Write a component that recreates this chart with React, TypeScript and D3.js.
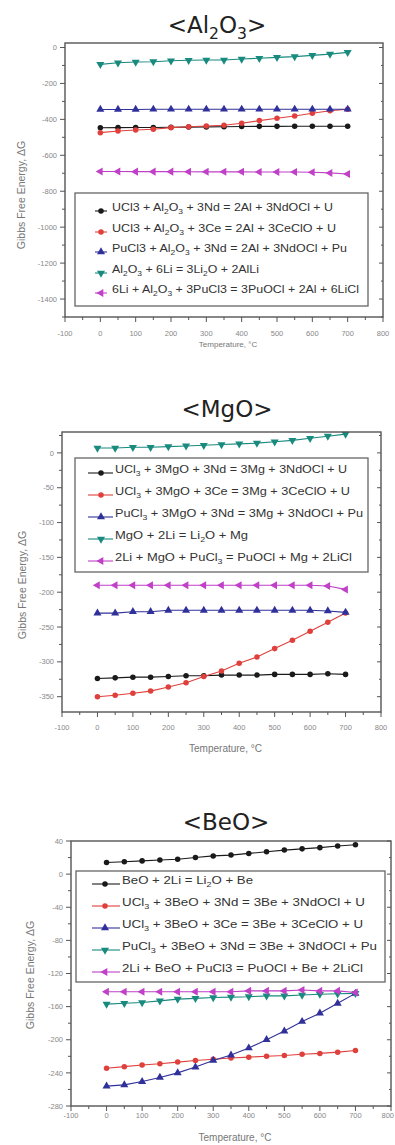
import * as d3 from "d3";

// temperatures (°C) shared by every panel
const temps = [0, 50, 100, 150, 200, 250, 300, 350, 400, 450, 500, 550, 600, 650, 700];
const xTicks = [-100, 0, 100, 200, 300, 400, 500, 600, 700, 800];

// <Al2O3>
const al2o3Black = [-447, -446, -445, -445, -444, -443, -442, -441, -440, -439, -439, -438, -438, -438, -438];
const al2o3Red = [-474, -465, -459, -455, -446, -441, -437, -433, -422, -407, -394, -381, -366, -352, -344];
const al2o3Blue = [-345, -345, -345, -344, -344, -344, -344, -344, -344, -344, -344, -344, -344, -344, -344];
const al2o3Teal = [-94, -85, -81, -79, -74, -71, -70, -70, -64, -60, -55, -51, -44, -37, -27];
const al2o3Magenta = [-690, -690, -691, -691, -691, -692, -692, -692, -692, -693, -693, -693, -694, -698, -704];
const al2o3YTicks = [0, -200, -400, -600, -800, -1000, -1200, -1400];
const al2o3Legend = [
  "UCl3 + Al_2O_3 + 3Nd = 2Al + 3NdOCl + U",
  "UCl3 + Al_2O_3 + 3Ce = 2Al + 3CeClO + U",
  "PuCl3 + Al_2O_3 + 3Nd = 2Al + 3NdOCl + Pu",
  "Al_2O_3 + 6Li = 3Li_2O + 2AlLi",
  "6Li + Al_2O_3 + 3PuCl3 = 3PuOCl + 2Al + 6LiCl",
];

// <MgO>
const mgoBlack = [-324, -323, -322, -322, -321, -320, -320, -319, -319, -319, -318, -318, -318, -317, -318];
const mgoRed = [-350, -348, -345, -342, -336, -330, -321, -313, -302, -293, -281, -269, -256, -243, -230];
const mgoBlue = [-230, -230, -228, -228, -226, -226, -226, -226, -226, -226, -226, -226, -226, -227, -229];
const mgoTeal = [7, 7, 8, 8, 9, 10, 11, 12, 13, 14, 16, 18, 21, 24, 27];
const mgoMagenta = [-190, -190, -190, -190, -190, -190, -190, -190, -190, -190, -190, -190, -190, -191, -196];
const mgoYTicks = [0, -50, -100, -150, -200, -250, -300, -350];
const mgoLegend = [
  "UCl_3 + 3MgO + 3Nd = 3Mg + 3NdOCl + U",
  "UCl_3 + 3MgO + 3Ce = 3Mg + 3CeClO + U",
  "PuCl_3 + 3MgO + 3Nd = 3Mg + 3NdOCl + Pu",
  "MgO + 2Li = Li_2O + Mg",
  "2Li + MgO + PuCl_3 = PuOCl + Mg + 2LiCl",
];

// <BeO>
const beoBlack = [14, 15, 16, 17, 18, 20, 22, 23, 25, 27, 29, 30.5, 32, 34, 35.5];
const beoRed = [-234.5, -232.5, -230.5, -229, -227, -225, -223.5, -222, -221, -220, -219, -217.5, -216.5, -215, -213];
const beoBlue = [-256, -254.5, -250.5, -245.5, -240, -233, -225, -218.5, -210, -200, -189.5, -178, -168, -156, -144];
const beoTeal = [-157, -156, -155, -153, -151, -150, -149, -148.5, -148, -147, -147, -146, -145, -144.5, -144];
const beoMagenta = [-142, -142, -142, -142, -142, -142, -142, -142, -141, -141, -141, -140, -141, -141, -143];
const beoYTicks = [40, 0, -40, -80, -120, -160, -200, -240, -280];
const beoLegend = [
  "BeO + 2Li = Li_2O + Be",
  "UCl_3 + 3BeO + 3Nd = 3Be + 3NdOCl + U",
  "UCl_3 + 3BeO + 3Ce = 3Be + 3CeClO + U",
  "PuCl_3 + 3BeO + 3Nd = 3Be + 3NdOCl + Pu",
  "2Li + BeO + PuCl3 = PuOCl + Be + 2LiCl",
];

const C = {
  black: "#1a1a1a",
  red: "#e0403c",
  blue: "#30309a",
  teal: "#198a7e",
  magenta: "#c040c8",
};

const sym = {
  circle: d3.symbol().type(d3.symbolCircle).size(24)() || "",
  tri: d3.symbol().type(d3.symbolTriangle).size(28)() || "",
};
const rot: Record<string, number> = { circle: 0, up: 0, down: 180, left: -90 };

function Marker({ x, y, shape, color }: any) {
  const d = shape === "circle" ? sym.circle : sym.tri;
  return <path d={d} fill={color} transform={`translate(${x},${y}) rotate(${rot[shape]})`} />;
}

// "Al_2O_3" -> tspans with subscripts
function Chem({ text, size }: { text: string; size: number }) {
  const parts = text.split(/(_\d)/).filter((p) => p !== "");
  let down = false;
  return (
    <>
      {parts.map((p, i) => {
        if (p.startsWith("_")) {
          down = true;
          return (
            <tspan key={i} fontSize={size * 0.68} dy={size * 0.28}>
              {p.slice(1)}
            </tspan>
          );
        }
        const dy = down ? -size * 0.28 : 0;
        down = false;
        return (
          <tspan key={i} dy={dy}>
            {p}
          </tspan>
        );
      })}
    </>
  );
}

const panels = [
  {
    title: "<Al_2O_3>", titleX: 217, titleY: 33,
    left: 65, right: 383, top: 43, bottom: 317, yDomain: [-1500, 25], yTicks: al2o3YTicks,
    yTitleX: 21, yTitleY: 195, xLabelY: 336, xTitleY: 347, xTitleSize: 8,
    series: [
      { v: al2o3Black, c: C.black, s: "circle" },
      { v: al2o3Red, c: C.red, s: "circle" },
      { v: al2o3Blue, c: C.blue, s: "up" },
      { v: al2o3Teal, c: C.teal, s: "down" },
      { v: al2o3Magenta, c: C.magenta, s: "left" },
    ],
    legend: { x0: 75, y0: 193, x1: 368, y1: 306, rows: [211, 232, 252, 273, 293], lx0: 95, lx1: 107, mx: 101, tx: 112,
      widths: [221, 224, 235, 147, 247], labels: al2o3Legend },
  },
  {
    title: "<MgO>", titleX: 227, titleY: 417,
    left: 62, right: 381, top: 432, bottom: 712, yDomain: [-372, 30], yTicks: mgoYTicks,
    yTitleX: 22, yTitleY: 585, xLabelY: 730, xTitleY: 752, xTitleSize: 10,
    series: [
      { v: mgoBlack, c: C.black, s: "circle" },
      { v: mgoRed, c: C.red, s: "circle" },
      { v: mgoBlue, c: C.blue, s: "up" },
      { v: mgoTeal, c: C.teal, s: "down" },
      { v: mgoMagenta, c: C.magenta, s: "left" },
    ],
    legend: { x0: 75, y0: 458, x1: 368, y1: 572, rows: [473, 495, 517, 539, 561], lx0: 88, lx1: 113, mx: 101, tx: 115,
      widths: [232, 235, 248, 133, 237], labels: mgoLegend },
  },
  {
    title: "<BeO>", titleX: 226, titleY: 830,
    left: 71, right: 391, top: 841, bottom: 1106, yDomain: [-280, 40], yTicks: beoYTicks,
    yTitleX: 30, yTitleY: 975, xLabelY: 1118, xTitleY: 1141, xTitleSize: 10,
    series: [
      { v: beoBlack, c: C.black, s: "circle" },
      { v: beoRed, c: C.red, s: "circle" },
      { v: beoBlue, c: C.blue, s: "up" },
      { v: beoTeal, c: C.teal, s: "down" },
      { v: beoMagenta, c: C.magenta, s: "left" },
    ],
    legend: { x0: 76, y0: 871, x1: 385, y1: 982, rows: [884, 906, 928, 950, 972], lx0: 92, lx1: 120, mx: 105, tx: 122,
      widths: [131, 243, 241, 255, 241], labels: beoLegend },
  },
];

function Panel({ p }: any) {
  const x = d3.scaleLinear().domain([-100, 800]).range([p.left, p.right]);
  const y = d3.scaleLinear().domain(p.yDomain).range([p.bottom, p.top]);
  const line = d3
    .line<number>()
    .x((_, i) => x(temps[i]))
    .y((d) => y(d));

  const yStep = p.yTicks[0] - p.yTicks[1];
  const yMinor = d3
    .range(p.yTicks[0] + yStep / 2, p.yDomain[0] - 1, -yStep)
    .filter((v: number) => v <= p.yDomain[1] && v >= p.yDomain[0] && !p.yTicks.includes(v));
  const xMinor = d3.range(-50, 800, 100);
  const axisColor = "#555";
  const lg = p.legend;

  return (
    <g>
      <text x={p.titleX} y={p.titleY} textAnchor="middle" fontFamily="DejaVu Sans" fontSize={23} fill="#222">
        <Chem text={p.title} size={23} />
      </text>

      {/* data */}
      {p.series.map((s: any, si: number) => (
        <g key={si}>
          <path d={line(s.v) || ""} fill="none" stroke={s.c} strokeWidth={1.1} />
          {s.v.map((v: number, i: number) => (
            <Marker key={i} x={x(temps[i])} y={y(v)} shape={s.s} color={s.c} />
          ))}
        </g>
      ))}

      {/* frame */}
      <rect x={p.left} y={p.top} width={p.right - p.left} height={p.bottom - p.top} fill="none" stroke={axisColor} strokeWidth={1.4} />

      {/* y ticks */}
      {p.yTicks.map((t: number) => (
        <g key={"y" + t}>
          <line x1={p.left - 5} x2={p.left} y1={y(t)} y2={y(t)} stroke={axisColor} />
          <line x1={p.right - 4} x2={p.right} y1={y(t)} y2={y(t)} stroke={axisColor} />
          <text x={p.left - 8} y={y(t)} dy="0.35em" textAnchor="end" fontFamily="Liberation Sans" fontSize={7.5} fill="#888">
            {t}
          </text>
        </g>
      ))}
      {yMinor.map((t: number) => (
        <g key={"ym" + t}>
          <line x1={p.left - 3} x2={p.left} y1={y(t)} y2={y(t)} stroke={axisColor} />
          <line x1={p.right - 2} x2={p.right} y1={y(t)} y2={y(t)} stroke={axisColor} />
        </g>
      ))}

      {/* x ticks (the last label is kept inside the page) */}
      {xTicks.map((t) => {
        const tx = x(t);
        const edge = tx + 8 > 394;
        return (
          <g key={"x" + t}>
            <line x1={tx} x2={tx} y1={p.bottom} y2={p.bottom + 5} stroke={axisColor} />
            <text
              x={edge ? 394 : tx}
              y={p.xLabelY}
              textAnchor={edge ? "end" : "middle"}
              fontFamily="Liberation Sans"
              fontSize={7.5}
              fill="#888"
            >
              {t}
            </text>
          </g>
        );
      })}
      {xMinor.map((t) => (
        <line key={"xm" + t} x1={x(t)} x2={x(t)} y1={p.bottom} y2={p.bottom + 3} stroke={axisColor} />
      ))}

      {/* axis titles */}
      <text
        transform={`translate(${p.yTitleX},${p.yTitleY}) rotate(-90)`}
        textAnchor="middle"
        dy="0.35em"
        fontFamily="Liberation Sans"
        fontSize={10.5}
        fill="#777"
      >
        Gibbs Free Energy, ΔG
      </text>
      <text x={(p.left + p.right) / 2 + 4} y={p.xTitleY} textAnchor="middle" fontFamily="Liberation Sans" fontSize={p.xTitleSize} fill="#777">
        Temperature, °C
      </text>

      {/* legend */}
      <rect x={lg.x0} y={lg.y0} width={lg.x1 - lg.x0} height={lg.y1 - lg.y0} fill="#fff" stroke="#666" strokeWidth={1.3} />
      {p.series.map((s: any, i: number) => (
        <g key={"lg" + i}>
          <line x1={lg.lx0} x2={lg.lx1} y1={lg.rows[i]} y2={lg.rows[i]} stroke={s.c} strokeWidth={1.1} />
          <Marker x={lg.mx} y={lg.rows[i]} shape={s.s} color={s.c} />
          <text
            x={lg.tx}
            y={lg.rows[i]}
            dy="0.36em"
            fontFamily="Liberation Sans"
            fontSize={11}
            fill="#333"
            textLength={lg.widths[i]}
            lengthAdjust="spacingAndGlyphs"
          >
            <Chem text={lg.labels[i]} size={11} />
          </text>
        </g>
      ))}
    </g>
  );
}

export default function App() {
  return (
    <svg
      width={395}
      height={1145}
      viewBox="0 0 395 1145"
      style={{ position: "absolute", left: 0, top: 0, background: "#fff" }}
    >
      <rect width={395} height={1145} fill="#fff" />
      {panels.map((p, i) => (
        <Panel key={i} p={p} />
      ))}
    </svg>
  );
}
